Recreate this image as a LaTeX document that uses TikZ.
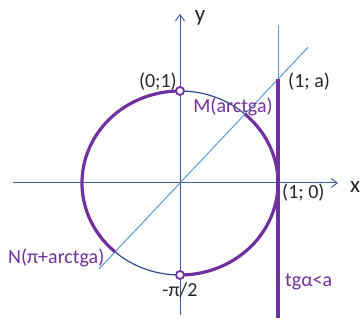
\documentclass[tikz,border=0pt]{standalone}
\usepackage{fontspec}
\setmainfont{Carlito}
\usetikzlibrary{arrows.meta}
\definecolor{navy}{HTML}{2F4B8C}
\definecolor{axisblue}{HTML}{3F5F9F}
\definecolor{lightblue}{HTML}{5B9BD5}
\definecolor{purp}{HTML}{7030A0}
\begin{document}
\begin{tikzpicture}[x=1pt,y=-1pt,
  axis/.style={draw=axisblue, line width=1pt, -{Straight Barb[length=6pt,width=9pt]}},
  thin line/.style={draw=lightblue, line width=1pt},
  sol/.style={draw=purp, line width=3.2pt},
  circ/.style={draw=navy, line width=1.2pt},
  lbl/.style={font=\fontsize{20}{22}\selectfont, text=black!85, inner sep=0pt},
  biglbl/.style={font=\fontsize{23}{25}\selectfont, text=black!85, inner sep=0pt},
  plbl/.style={font=\fontsize{20}{22}\selectfont, text=purp, inner sep=0pt},
  openpt/.style={circle, draw=purp, line width=1.8pt, fill=white, minimum size=8pt, inner sep=0pt}
]
\useasboundingbox (0,0) rectangle (364,320);
% coordinates
\coordinate (O) at (180,183);
\coordinate (xs) at (13,183);
\coordinate (xe) at (338,183);
\coordinate (ys) at (180,315);
\coordinate (ye) at (180,14);
\coordinate (ds) at (99,268.9);
\coordinate (de) at (308,47.3);
\coordinate (tt) at (278,25);
\coordinate (A) at (278,79);
\coordinate (tb) at (278,318);
% axes
\draw[axis] (xs) -- (xe);
\draw[axis] (ys) -- (ye);
% circle
\draw[circ] (O) ellipse [x radius=98pt, y radius=92pt];
% diagonal and tangent
\draw[thin line] (ds) -- (de);
\draw[thin line] (tt) -- (A);
\draw[sol] (A) -- (tb);
% solution arcs
\draw[sol] plot[domain=90:228.5, samples=80, smooth] ({180+98*cos(\x)},{183-92*sin(\x)});
\draw[sol] plot[domain=-90:48.5, samples=80, smooth] ({180+98*cos(\x)},{183-92*sin(\x)});
% open points
\node[openpt] (T) at (180,91) {};
\node[openpt] (B) at (180,275) {};
% labels
\node[lbl, anchor=east] (l01) at (177,82) {(0;1)};
\node[plbl] (lM) at (233,107) {M(arctga)};
\node[lbl, anchor=west] (l1a) at (288,82) {(1; a)};
\node[lbl, anchor=west] (l10) at (282,193) {(1; 0)};
\node[plbl, anchor=west] (ltg) at (285,282) {tgα<a};
\node[plbl, anchor=west] (lN) at (8,258) {N(π+arctga)};
\node[lbl] (lpi) at (180,290) {-π/2};
\node[biglbl] (ly) at (200,18) {y};
\node[biglbl] (lx) at (355,187) {x};
\end{tikzpicture}
\end{document}
